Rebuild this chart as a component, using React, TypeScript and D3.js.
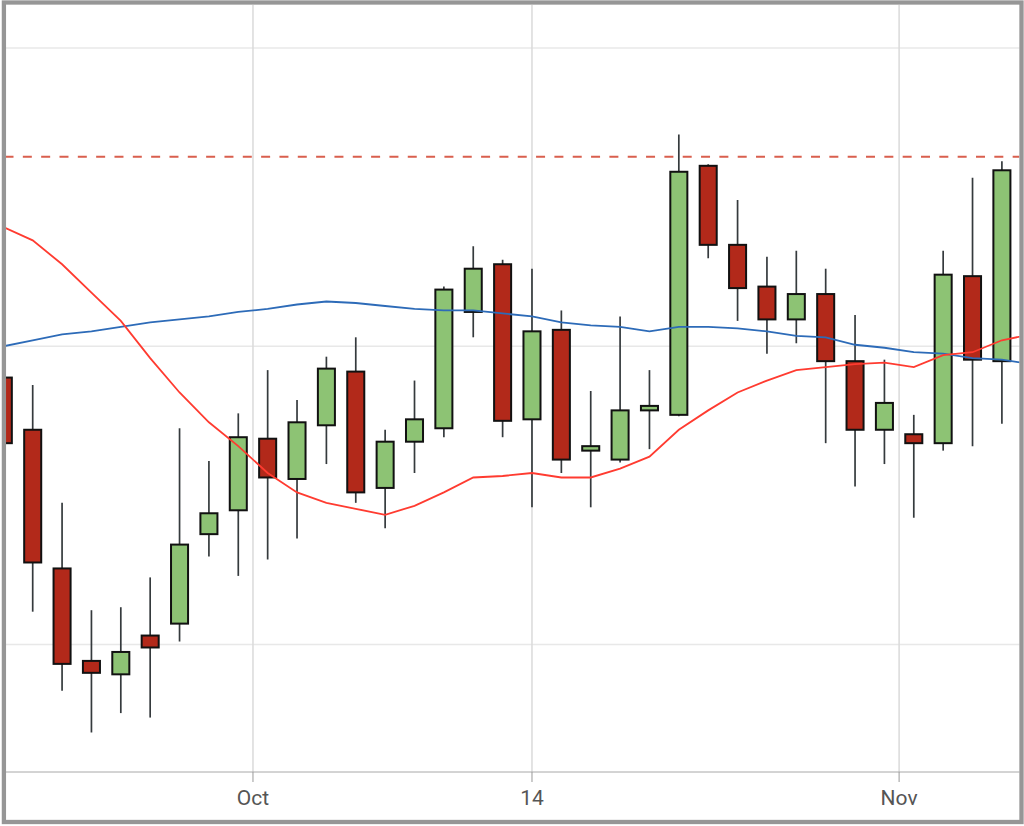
import React from 'react'
import * as d3 from 'd3'

// OHLC per trading day (index 0 is the first, partly hidden candle)
const opens = [53.79, 53.44, 52.51, 51.89, 51.80, 52.06, 52.14, 52.74, 52.90, 53.38, 53.11, 53.47, 53.83, 53.05, 53.36, 53.45, 54.23, 54.55, 53.51, 54.11, 53.30, 53.24, 53.57, 53.54, 55.21, 54.68, 54.40, 54.18, 54.35, 53.90, 53.44, 53.41, 53.35, 54.47, 53.90]
const highs = [53.87, 53.74, 52.95, 52.23, 52.25, 52.45, 53.45, 53.23, 53.55, 53.84, 53.64, 53.93, 54.06, 53.44, 53.77, 54.40, 54.67, 54.58, 54.52, 54.24, 53.70, 54.20, 53.84, 55.42, 55.22, 54.98, 54.60, 54.64, 54.52, 54.21, 53.91, 53.54, 54.64, 55.13, 55.24]
const lows = [53.27, 52.22, 51.69, 51.41, 51.54, 51.51, 52.02, 52.59, 52.46, 52.57, 52.71, 53.21, 52.95, 52.78, 53.15, 53.39, 54.06, 53.39, 52.92, 53.15, 52.92, 53.22, 53.31, 53.53, 54.59, 54.17, 53.95, 54.02, 53.35, 53.06, 53.21, 52.85, 53.30, 53.33, 53.48]
const closes = [53.35, 52.55, 51.87, 51.81, 51.95, 51.98, 52.67, 52.88, 53.39, 53.12, 53.49, 53.85, 53.02, 53.36, 53.51, 54.38, 54.52, 53.50, 54.10, 53.24, 53.33, 53.57, 53.60, 55.17, 54.68, 54.39, 54.18, 54.35, 53.90, 53.44, 53.62, 53.35, 54.48, 53.91, 55.18]

// moving averages, one value before and one after the visible candles
const smaFast = [54.88, 54.80, 54.71, 54.55, 54.36, 54.17, 53.92, 53.69, 53.49, 53.33, 53.15, 53.02, 52.95, 52.91, 52.87, 52.93, 53.02, 53.12, 53.13, 53.15, 53.12, 53.12, 53.18, 53.26, 53.44, 53.57, 53.69, 53.77, 53.84, 53.86, 53.88, 53.89, 53.86, 53.94, 53.96, 54.04, 54.08]
const smaSlow = [53.96, 54.00, 54.04, 54.08, 54.10, 54.13, 54.16, 54.18, 54.20, 54.23, 54.25, 54.28, 54.30, 54.29, 54.27, 54.25, 54.24, 54.24, 54.22, 54.20, 54.16, 54.14, 54.13, 54.10, 54.13, 54.13, 54.12, 54.10, 54.07, 54.06, 54.01, 53.99, 53.96, 53.95, 53.92, 53.91, 53.88]

const resistance = 55.27

const priceTicks = [52, 54, 56]
const timeLabels = ['Oct', '14', 'Nov']
const timeTickAt = [8.5, 18, 30.5]

const W = 1024
const H = 826
const plotLeft = 6
const plotRight = 1019.5
const plotTop = 5
const plotBottom = 772

const App = () => {
    const x = d3.scaleLinear().domain([0, 34]).range([3.33, 1001.9])
    const y = d3.scaleLinear().domain([52, 56]).range([644.5, 48])
    const step = x(1) - x(0)
    const bodyW = step * 0.58

    // ma arrays start one step left of candle 0
    const maLine = d3.line<number>()
        .x((d, i) => x(i - 1))
        .y(d => y(d))

    return (
        <svg width={W} height={H} style={{ position: 'absolute', left: 0, top: 0, background: '#fff' }}>
            <defs>
                <clipPath id="plotClip">
                    <rect x={plotLeft} y={plotTop} width={plotRight - plotLeft} height={plotBottom - plotTop} />
                </clipPath>
            </defs>

            {/* grid */}
            {priceTicks.map(t => (
                <line key={'h' + t} x1={plotLeft} x2={plotRight} y1={y(t)} y2={y(t)}
                    stroke="#e8e8e8" strokeWidth={1.5} />
            ))}
            {timeTickAt.map((t, i) => (
                <line key={'v' + i} x1={x(t)} x2={x(t)} y1={plotTop} y2={plotBottom}
                    stroke="#dadada" strokeWidth={1.5} />
            ))}

            {/* x axis */}
            <line x1={plotLeft} x2={plotRight} y1={plotBottom} y2={plotBottom} stroke="#a8a8a8" strokeWidth={1} />
            {timeTickAt.map((t, i) => (
                <g key={'t' + i}>
                    <line x1={x(t)} x2={x(t)} y1={plotBottom} y2={plotBottom + 10} stroke="#999" strokeWidth={1} />
                    <text x={x(t)} y={805} textAnchor="middle" fontFamily="Roboto, sans-serif" fontSize={21} fill="#555">
                        {timeLabels[i]}
                    </text>
                </g>
            ))}

            <g clipPath="url(#plotClip)">
                {/* wicks */}
                {opens.map((o, i) => (
                    <line key={'w' + i} x1={x(i)} x2={x(i)} y1={y(highs[i])} y2={y(lows[i])}
                        stroke="#353a3d" strokeWidth={1.7} />
                ))}
                {/* bodies */}
                {opens.map((o, i) => {
                    const up = closes[i] > o
                    const top = y(Math.max(o, closes[i]))
                    const h = Math.max(1, Math.abs(y(o) - y(closes[i])))
                    return (
                        <rect key={'b' + i} x={x(i) - bodyW / 2} y={top} width={bodyW} height={h}
                            fill={up ? '#8dc374' : '#b2291a'} stroke="#111" strokeWidth={2} />
                    )
                })}

                <path d={maLine(smaSlow) ?? ''} fill="none" stroke="#2d6bb8" strokeWidth={1.8} />
                <path d={maLine(smaFast) ?? ''} fill="none" stroke="#ff3b30" strokeWidth={1.8} />

                <line x1={4.5} x2={plotRight} y1={y(resistance)} y2={y(resistance)}
                    stroke="#d95f4e" strokeWidth={2} strokeDasharray="9,9.33" />
            </g>

            {/* frame */}
            <rect x={3.9} y={2.5} width={1017.6} height={819.5} fill="none" stroke="#969696" strokeWidth={4.3} />
        </svg>
    )
}

export default App
